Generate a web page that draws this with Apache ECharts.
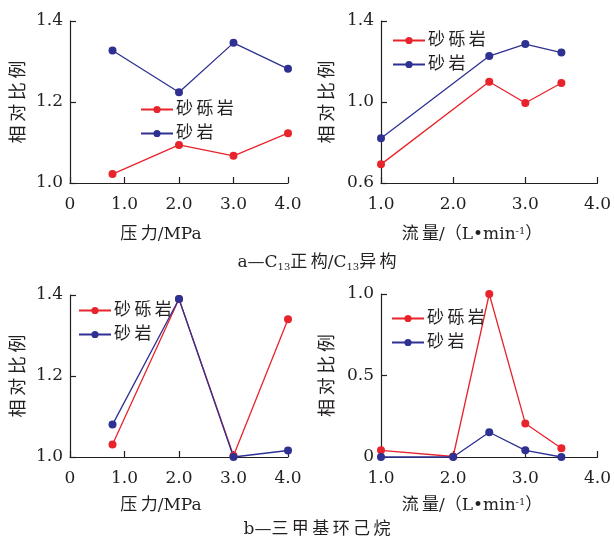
<!DOCTYPE html>
<html>
<head>
<meta charset="utf-8">
<script src="https://cdn.jsdelivr.net/npm/echarts@6/dist/echarts.min.js"></script>
<style>html,body{margin:0;padding:0;background:#fff}#c{width:614px;height:540px}</style>
</head>
<body>
<div id="c"></div>
<script>
// ---- data ----
const pressure = [0.78, 2.0, 3.0, 4.0];
const aGravel = [1.022, 1.094, 1.067, 1.123];
const aSand = [1.327, 1.224, 1.346, 1.282];
const flowB = [1.0, 2.5, 3.0, 3.5];
const bGravel = [0.692, 1.100, 0.995, 1.094];
const bSand = [0.821, 1.227, 1.286, 1.244];
const cGravel = [1.031, 1.390, 1.003, 1.340];
const cSand = [1.080, 1.390, 1.000, 1.016];
const flowD = [1.0, 2.0, 2.5, 3.0, 3.5];
const dGravel = [0.041, 0.003, 1.0, 0.206, 0.054];
const dSand = [0.0, 0.0, 0.152, 0.041, 0.0];
const seriesNames = ['砂砾岩', '砂岩'];
const yName = '相对比例';

const RED = '#e8232b', BLUE = '#2e3192', INK = '#231f20';
const NUM = '"DejaVu Serif","Liberation Serif",serif';
const CJK = '"DejaVu Serif","Noto Sans CJK SC",serif';
const spaced = s => s.split('').join('\u2009');

const chart = echarts.init(document.getElementById('c'));
const pairs = (xs, ys) => xs.map((x, i) => [x, ys[i]]);
const fmt1 = v => (Math.abs(v) < 1e-9 ? '0' : v.toFixed(1));

const grids = [
  {left: 70, top: 21, width: 218, height: 162},
  {left: 381, top: 21, width: 219, height: 162},
  {left: 70, top: 295, width: 218, height: 162},
  {left: 381, top: 294, width: 219, height: 163}
];
const xr = [[0, 4], [1, 4], [0, 4], [1, 4]];
const yr = [[1.0, 1.4, 0.2], [0.6, 1.4, 0.4], [1.0, 1.4, 0.2], [0, 1.0, 0.5]];
const yGap = [42, 44, 42, 44];

const axisCommon = {
  axisLine: {show: true, lineStyle: {color: INK, width: 1.2}},
  axisTick: {show: true, inside: true, length: 6, lineStyle: {color: INK, width: 1.2}},
  splitLine: {show: false},
  axisLabel: {color: INK, fontFamily: NUM, fontSize: 17, formatter: fmt1}
};

const xAxis = grids.map((g, i) => Object.assign({}, axisCommon, {
  type: 'value', gridIndex: i, min: xr[i][0], max: xr[i][1], interval: 1,
  axisLabel: Object.assign({}, axisCommon.axisLabel, {margin: 13})
}));
const yAxis = grids.map((g, i) => Object.assign({}, axisCommon, {
  type: 'value', gridIndex: i, min: yr[i][0], max: yr[i][1], interval: yr[i][2],
  name: spaced(yName), nameLocation: 'middle', nameGap: yGap[i], nameRotate: 90,
  nameTextStyle: {color: INK, fontFamily: CJK, fontSize: 18, fontWeight: 'normal'},
  axisLabel: Object.assign({}, axisCommon.axisLabel, {margin: 7})
}));

const mk = (name, color, gi, data) => ({
  type: 'line', name, xAxisIndex: gi, yAxisIndex: gi, data,
  symbol: 'circle', symbolSize: 8, clip: false,
  itemStyle: {color}, lineStyle: {color, width: 1.3}, animation: false
});
const series = [
  mk(seriesNames[0], RED, 0, pairs(pressure, aGravel)),
  mk(seriesNames[1], BLUE, 0, pairs(pressure, aSand)),
  mk(seriesNames[0], RED, 1, pairs(flowB, bGravel)),
  mk(seriesNames[1], BLUE, 1, pairs(flowB, bSand)),
  mk(seriesNames[0], RED, 2, pairs(pressure, cGravel)),
  mk(seriesNames[1], BLUE, 2, pairs(pressure, cSand)),
  mk(seriesNames[0], RED, 3, pairs(flowD, dGravel)),
  mk(seriesNames[1], BLUE, 3, pairs(flowD, dSand))
];

const legPos = [[135, 96], [387, 27], [73, 297], [386, 305]];
const legend = legPos.map(p => ({
  left: p[0], top: p[1], orient: 'vertical', itemWidth: 32, itemHeight: 9, itemGap: 7,
  data: seriesNames, selectedMode: false, formatter: spaced,
  textStyle: {color: INK, fontFamily: CJK, fontSize: 17, padding: [0, 0, 0, -2]}
}));

const rich = {
  t: {fontFamily: CJK, fontSize: 17, color: INK, fontWeight: 'normal'},
  sub: {fontFamily: NUM, fontSize: 10, color: INK, fontWeight: 'normal', padding: [8, 0, 0, 0]},
  sup: {fontFamily: NUM, fontSize: 10, color: INK, fontWeight: 'normal', padding: [0, 0, 8, 0]}
};
const txt = (x, y, text) => ({
  left: x, top: y, textAlign: 'center',
  text, textStyle: {rich, fontSize: 17, fontFamily: CJK, color: INK, fontWeight: 'normal'}
});
const title = [
  txt(156, 221, '{t|' + spaced('压力') + '/MPa}'),
  txt(467, 221, '{t|' + spaced('流量') + '/（L•min}{sup|-1}{t|）}'),
  txt(312, 249, '{t|a—C}{sub|13}{t|' + spaced('正构') + '/C}{sub|13}{t|' + spaced('异构') + '}'),
  txt(156, 492, '{t|' + spaced('压力') + '/MPa}'),
  txt(467, 492, '{t|' + spaced('流量') + '/（L•min}{sup|-1}{t|）}'),
  txt(312, 516, '{t|b—' + spaced('三甲基环己烷') + '}')
];

chart.setOption({
  animation: false,
  backgroundColor: '#fff',
  grid: grids, xAxis, yAxis, series, legend, title
});
</script>
</body>
</html>
